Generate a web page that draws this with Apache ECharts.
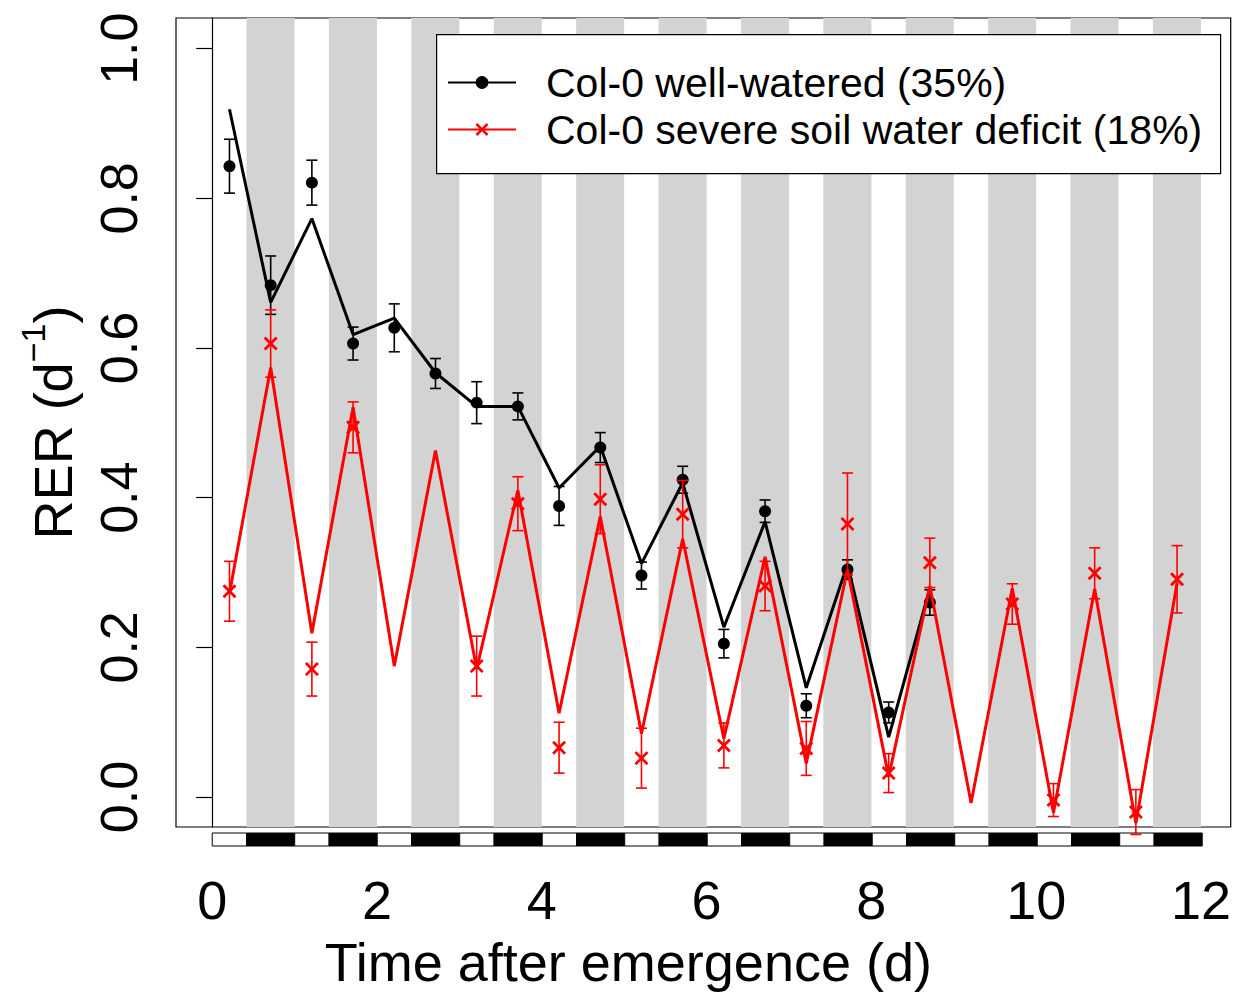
<!DOCTYPE html>
<html>
<head>
<meta charset="utf-8">
<script src="https://cdn.jsdelivr.net/npm/echarts@6/dist/echarts.min.js"></script>
<style>
html,body{margin:0;padding:0;background:#fff;}
#chart{width:1234px;height:994px;}
</style>
</head>
<body>
<div id="chart"></div>
<script>
// ---- data ----
const xTicks = [0, 2, 4, 6, 8, 10, 12];
const yTicks = [0, 0.2, 0.4, 0.6, 0.8, 1.0];

// night (dark) periods, days after emergence
const nightStart = [0.417, 1.417, 2.417, 3.417, 4.417, 5.417, 6.417, 7.417, 8.417, 9.417, 10.417, 11.417];
const nightEnd   = [1, 2, 3, 4, 5, 6, 7, 8, 9, 10, 11, 12];
const dayStart   = [0, 1, 2, 3, 4, 5, 6, 7, 8, 9, 10, 11];

// well-watered
const wwTime  = [0.21, 0.71, 1.21, 1.71, 2.21, 2.71, 3.21, 3.71, 4.21, 4.71, 5.21, 5.71, 6.21, 6.71, 7.21, 7.71, 8.21, 8.71];
const wwObs   = [0.843, 0.684, 0.821, 0.606, 0.627, 0.566, 0.527, 0.522, 0.389, 0.467, 0.296, 0.424, 0.205, 0.382, 0.122, 0.304, 0.113, 0.260];
const wwSE    = [0.036, 0.039, 0.030, 0.022, 0.032, 0.020, 0.028, 0.018, 0.026, 0.020, 0.018, 0.018, 0.019, 0.015, 0.016, 0.013, 0.014, 0.017];
const wwModel = [0.919, 0.661, 0.773, 0.618, 0.640, 0.567, 0.522, 0.522, 0.413, 0.469, 0.312, 0.420, 0.227, 0.368, 0.146, 0.311, 0.080, 0.279];

// severe soil water deficit
const sdTime  = [0.21, 0.71, 1.21, 1.71, 2.21, 2.71, 3.21, 3.71, 4.21, 4.71, 5.21, 5.71, 6.21, 6.71, 7.21, 7.71, 8.21, 8.71, 9.21, 9.71, 10.21, 10.71, 11.21, 11.71];
const sdObs   = [0.275, 0.606, 0.171, 0.494, null, null, 0.175, 0.392, 0.066, 0.398, 0.052, 0.378, 0.069, 0.282, 0.065, 0.365, 0.032, 0.313, null, 0.258, -0.004, 0.299, -0.020, 0.291];
const sdSE    = [0.040, 0.045, 0.036, 0.034, null, null, 0.040, 0.036, 0.034, 0.046, 0.040, 0.045, 0.030, 0.033, 0.036, 0.068, 0.026, 0.033, null, 0.027, 0.022, 0.034, 0.030, 0.045];
const sdModel = [0.272, 0.574, 0.219, 0.521, 0.175, 0.463, 0.171, 0.410, 0.112, 0.375, 0.085, 0.345, 0.078, 0.321, 0.045, 0.304, 0.027, 0.282, -0.008, 0.279, -0.021, 0.278, -0.035, 0.286];

const nameWW = 'Col-0 well-watered (35%)';
const nameSD = 'Col-0 severe soil water deficit (18%)';

// ---- build ----
const FONT = 'Liberation Sans, Arial, sans-serif';
const CROSS = 'path://M0,1.4L1.4,0L5,3.6L8.6,0L10,1.4L6.4,5L10,8.6L8.6,10L5,6.4L1.4,10L0,8.6L3.6,5Z';
const XMIN = -0.439, XMAX = 12.361;

function pairs(t, v) { const out = []; for (let i = 0; i < t.length; i++) if (v[i] !== null) out.push([t[i], v[i]]); return out; }
function errs(t, v, s) { const out = []; for (let i = 0; i < t.length; i++) if (v[i] !== null) out.push([t[i], v[i] - s[i], v[i] + s[i]]); return out; }

function errRender(color) {
  return function (params, api) {
    const x = api.value(0), lo = api.value(1), hi = api.value(2);
    const a = api.coord([x, hi]), b = api.coord([x, lo]);
    const w = 5.5;
    const st = { stroke: color, lineWidth: 1.6 };
    return { type: 'group', children: [
      { type: 'line', shape: { x1: a[0], y1: a[1], x2: b[0], y2: b[1] }, style: st },
      { type: 'line', shape: { x1: a[0] - w, y1: a[1], x2: a[0] + w, y2: a[1] }, style: st },
      { type: 'line', shape: { x1: b[0] - w, y1: b[1], x2: b[0] + w, y2: b[1] }, style: st }
    ]};
  };
}

const bands = nightStart.map((s, i) => [{ xAxis: s }, { xAxis: nightEnd[i] }]);
const barSegs = [];
dayStart.forEach((d, i) => { barSegs.push([d, nightStart[i], 0]); barSegs.push([nightStart[i], nightEnd[i], 1]); });

const chart = echarts.init(document.getElementById('chart'), null, { renderer: 'svg' });
chart.setOption({
  animation: false,
  backgroundColor: '#fff',
  textStyle: { fontFamily: FONT, color: '#000' },
  grid: [
    { left: 176, top: 18, width: 1056, height: 814, show: true, borderColor: '#000', borderWidth: 1.2, backgroundColor: 'transparent' },
    { left: 176, top: 833, width: 1056, height: 13, show: false }
  ],
  legend: {
    data: [nameWW, nameSD],
    orient: 'vertical',
    left: 447, top: 62,
    z: 20,
    itemWidth: 68, itemHeight: 16, itemGap: 6,
    padding: 0,
    textStyle: { fontSize: 41, fontFamily: FONT, color: '#000', padding: [0, 0, 0, 25] },
    selectedMode: false
  },
  graphic: [
    { type: 'rect', left: 436, top: 34, z: 3, shape: { width: 784, height: 139 }, style: { fill: '#fff', stroke: '#000', lineWidth: 1.2 } }
  ],
  xAxis: [
    { type: 'value', gridIndex: 0, min: XMIN, max: XMAX,
      axisLine: { show: false }, axisTick: { show: false }, splitLine: { show: false },
      axisLabel: { customValues: xTicks, fontSize: 54, margin: 46, color: '#000', fontFamily: FONT },
      name: 'Time after emergence (d)', nameLocation: 'middle', nameGap: 135,
      nameTextStyle: { fontSize: 54, fontFamily: FONT, color: '#000', align: 'center', verticalAlign: 'middle', padding: [0, 150, 0, 0] } },
    { type: 'value', gridIndex: 1, min: XMIN, max: XMAX, show: false }
  ],
  yAxis: [
    { type: 'value', gridIndex: 0, min: -0.04, max: 1.041,
      axisLine: { show: true, lineStyle: { color: '#000', width: 1.2 } },
      axisTick: { show: true, length: 16, customValues: yTicks, lineStyle: { color: '#000', width: 1.2 } },
      splitLine: { show: false },
      axisLabel: { customValues: yTicks, rotate: 90, fontSize: 52, margin: 31, color: '#000', fontFamily: FONT, formatter: v => v.toFixed(1) },
      name: '{a|RER (d}{b|−1}{a|)}', nameLocation: 'middle', nameRotate: 90, nameGap: 128,
      nameTextStyle: { align: 'center', verticalAlign: 'middle',
        rich: { a: { fontSize: 54, fontFamily: FONT, color: '#000', lineHeight: 64, verticalAlign: 'bottom' },
                b: { fontSize: 34, fontFamily: FONT, color: '#000', lineHeight: 64, verticalAlign: 'top' } } } },
    { type: 'value', gridIndex: 1, min: 0, max: 1, show: false }
  ],
  series: [
    { type: 'line', name: 'bands', data: [], z: 1, silent: true,
      markArea: { silent: true, itemStyle: { color: '#d3d3d3' }, data: bands } },
    { type: 'custom', name: 'daynight', xAxisIndex: 1, yAxisIndex: 1, data: barSegs, silent: true, z: 3,
      renderItem: function (params, api) {
        const a = api.coord([api.value(0), 1]), b = api.coord([api.value(1), 0]);
        return { type: 'rect', shape: { x: a[0], y: a[1], width: b[0] - a[0], height: b[1] - a[1] },
                 style: { fill: api.value(2) ? '#000' : '#fff', stroke: '#000', lineWidth: 1 } };
      } },
    { type: 'line', name: nameWW, data: pairs(wwTime, wwModel), z: 5,
      symbol: 'circle', showSymbol: false, symbolSize: 12,
      lineStyle: { color: '#000', width: 3 }, itemStyle: { color: '#000' } },
    { type: 'custom', name: 'ww-se', data: errs(wwTime, wwObs, wwSE), z: 6, renderItem: errRender('#000'),
      encode: { x: 0, y: [1, 2] } },
    { type: 'scatter', name: 'ww-obs', data: pairs(wwTime, wwObs), z: 7,
      symbol: 'circle', symbolSize: 12, itemStyle: { color: '#000', opacity: 1 } },
    { type: 'line', name: nameSD, data: pairs(sdTime, sdModel), z: 8,
      symbol: CROSS, showSymbol: false, symbolSize: 14,
      lineStyle: { color: '#ff0000', width: 3 }, itemStyle: { color: '#ff0000' } },
    { type: 'custom', name: 'sd-se', data: errs(sdTime, sdObs, sdSE), z: 9, renderItem: errRender('#ff0000'),
      encode: { x: 0, y: [1, 2] } },
    { type: 'scatter', name: 'sd-obs', data: pairs(sdTime, sdObs), z: 10,
      symbol: CROSS, symbolSize: 14, itemStyle: { color: '#ff0000', opacity: 1 } }
  ]
});
</script>
</body>
</html>
